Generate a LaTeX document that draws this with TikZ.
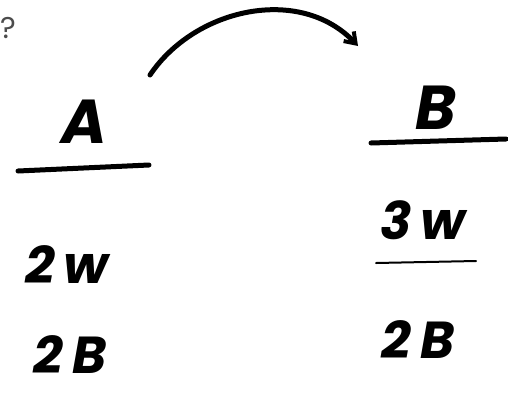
\documentclass[tikz,border=0pt]{standalone}
\usepackage{fontspec}
\setmainfont{Poppins}
\usetikzlibrary{arrows.meta}
\begin{document}
\begin{tikzpicture}[x=1pt,y=-1pt,
  ink/.style={line width=5pt,line cap=round},
  thinink/.style={line width=2pt,line cap=round},
  hand/.style={font=\fontsize{62}{64}\selectfont\bfseries\itshape,inner sep=0pt},
  hand2/.style={font=\fontsize{52}{54}\selectfont\bfseries\itshape,inner sep=0pt}]
\useasboundingbox (0,0) rectangle (508,397);
\fill[white] (0,0) rectangle (508,397);
\node[font=\fontsize{30}{30}\selectfont,text=black!70,inner sep=0pt] (q) at (8,28) {?};
\coordinate (s) at (150,75);
\coordinate (e) at (358,46);
\draw[ink,-{Straight Barb[length=10pt,width=14pt,line width=4pt]}] (s) .. controls (195,8) and (300,-15) .. (e);
\node[hand] (A) at (84,122) {A};
\coordinate (a1) at (18,171);
\coordinate (a2) at (149,165);
\draw[ink] (a1) -- (a2);
\node[hand] (B) at (436,108) {B};
\coordinate (b1) at (371,143);
\coordinate (b2) at (506,139);
\draw[ink] (b1) -- (b2);
\node[hand2] (w2) at (67,265) {2\,w};
\node[hand2] (bl) at (70,355) {2\,B};
\node[hand2] (w3) at (423,220) {3\,w};
\coordinate (c1) at (376,263);
\coordinate (c2) at (476,261);
\draw[thinink] (c1) -- (c2);
\node[hand2] (br) at (418,340) {2\,B};
\end{tikzpicture}
\end{document}
